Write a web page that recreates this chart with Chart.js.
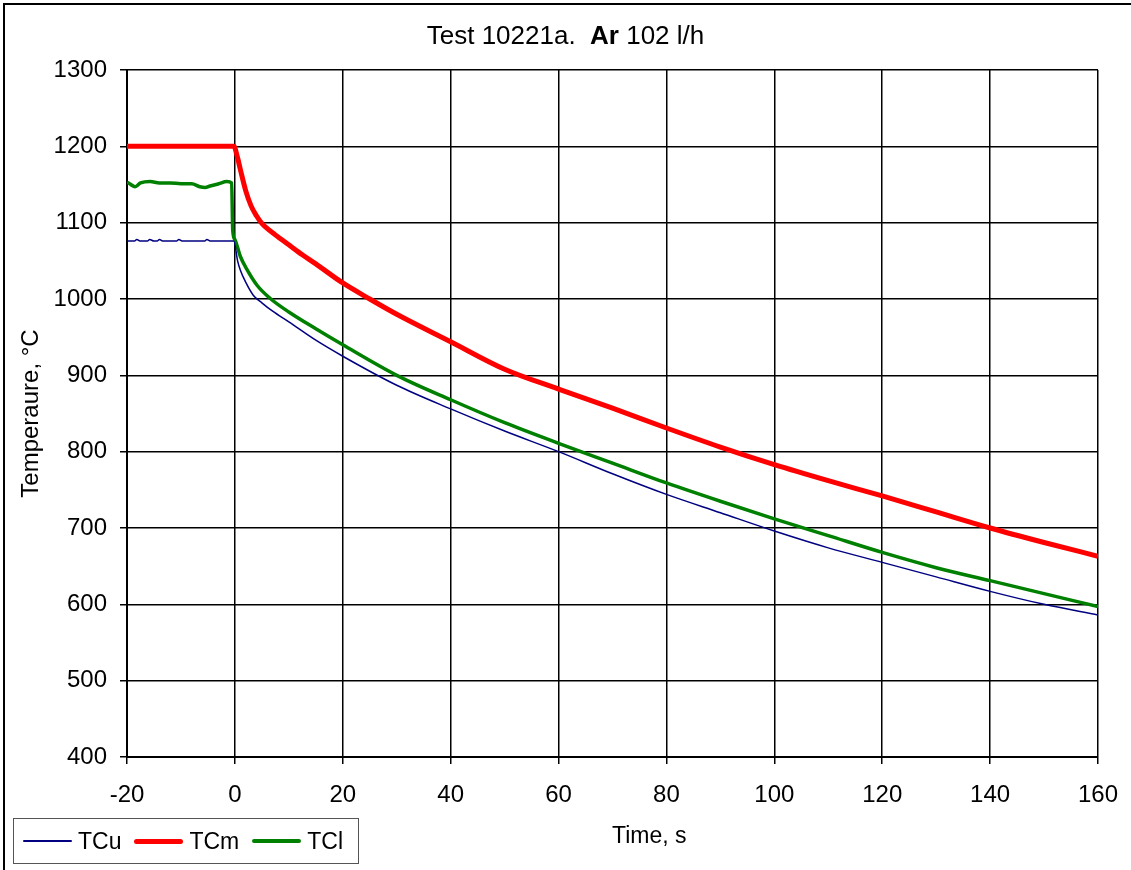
<!DOCTYPE html>
<html>
<head>
<meta charset="utf-8">
<script src="https://cdn.jsdelivr.net/npm/chart.js@4"></script>
<style>
  body { margin: 0; background: #fff; font-family: "Liberation Sans", Arial, sans-serif; }
  #wrap { position: relative; width: 1131px; height: 870px; overflow: hidden; }
  #frame { position: absolute; left: 3px; top: 3px; width: 1140px; height: 880px;
    border-left: 2px solid #000; border-top: 2px solid #000; }
  #title { position: absolute; left: 0; width: 1131px; top: 20px; text-align: center; font-size: 26px; color: #000; }
  #xtitle { position: absolute; left: 612px; top: 822px; font-size: 23px; color: #000; }
  #legend { position: absolute; left: 13px; top: 818px; width: 344px; height: 44px;
    border: 1px solid #555; display: flex; align-items: center; font-size: 23px; }
  #legend span.item { display: flex; align-items: center; margin-left: 9px; margin-right: 4px; }
  #legend i { display: inline-block; width: 49px; margin-right: 6px; border-radius: 3px; }
  canvas { position: absolute; left: 0; top: 0; }
</style>
</head>
<body>
<div id="wrap">
  <canvas id="chart" width="1131" height="870"></canvas>
  <div id="frame"></div>
  <div id="title">Test 10221a.&nbsp;&nbsp;<b>Ar</b> 102 l/h</div>
  <div id="xtitle">Time, s</div>
  <div id="legend"></div>
</div>
<script>
// TCu (upper thermocouple)
const tcuTime = [-20, -18.6, -18.2, -17.6, -16.2, -15.8, -15, -14.4, -14, -13.4, -10.8, -10.4, -9.8, -5.6, -5.2, -4.6, -0.2,
  0.5, 1, 2, 3.4, 5, 7, 10, 15, 20, 30, 40, 50, 60, 70, 80, 90, 100, 110, 120, 130, 140, 150, 160]
const tcuTemp = [1076, 1076, 1078, 1076, 1076, 1078, 1076, 1076, 1078, 1076, 1076, 1078, 1076, 1076, 1078, 1076, 1076,
  1050, 1038, 1022, 1005, 995, 984, 970, 946, 925, 887, 856, 827, 800, 771, 744, 720, 696, 674, 655, 636, 617, 600, 586]

// TCm (middle thermocouple)
const tcmTime = [-20, -0.2, 0.5, 1, 2, 3, 4, 5, 7.5, 10, 12.5, 15, 20, 25, 30, 40, 50, 60, 70, 80, 90, 100, 110, 120, 130, 140, 150, 160]
const tcmTemp = [1200, 1200, 1185, 1170, 1142, 1122, 1109, 1099, 1084, 1071, 1058, 1046, 1021, 1000, 980, 944, 908, 882, 857, 831, 806, 783, 762, 742, 721, 700, 681, 663]

// TCl (lower thermocouple)
const tclTime = [-20, -19.5, -18.5, -17.5, -15.7, -14, -12, -10, -8, -6.5, -5.5, -4.6, -3, -1.5, -0.6, -0.4,
  0, 1, 2.2, 4.1, 6.5, 10, 15, 20, 30, 40, 50, 60, 70, 80, 90, 100, 110, 120, 130, 140, 150, 160]
const tclTemp = [1153, 1151, 1147, 1152, 1154, 1152, 1152, 1151, 1151, 1147, 1146, 1148, 1151, 1154, 1152, 1090,
  1078, 1056, 1039, 1018, 1001, 983, 961, 940, 900, 868, 838, 811, 785, 759, 735, 712, 690, 668, 648, 631, 614, 597]

const xTicks = { min: -20, max: 160, step: 20 }
const yTicks = { min: 400, max: 1300, step: 100 }

const toPoints = (t, v) => t.map((x, i) => ({ x: x, y: v[i] }))
const tickFont = { family: 'Liberation Sans', size: 24 }

const chart = new Chart(document.getElementById('chart'), {
  type: 'line',
  data: {
    datasets: [
      { label: 'TCu', data: toPoints(tcuTime, tcuTemp), borderColor: '#000080', backgroundColor: '#000080', borderWidth: 1.5 },
      { label: 'TCm', data: toPoints(tcmTime, tcmTemp), borderColor: '#ff0000', backgroundColor: '#ff0000', borderWidth: 5 },
      { label: 'TCl', data: toPoints(tclTime, tclTemp), borderColor: '#008000', backgroundColor: '#008000', borderWidth: 3.5 }
    ]
  },
  options: {
    responsive: false,
    animation: false,
    devicePixelRatio: 1,
    cubicInterpolationMode: 'monotone',
    elements: { point: { radius: 0 } },
    layout: { padding: { top: 70, right: 33, bottom: 0, left: 0 } },
    plugins: { legend: { display: false }, title: { display: false }, tooltip: { enabled: false } },
    scales: {
      x: {
        type: 'linear',
        min: xTicks.min, max: xTicks.max,
        ticks: { stepSize: xTicks.step, color: '#000', font: tickFont, padding: 17, maxRotation: 0, callback: v => String(v) },
        grid: { color: '#000', lineWidth: 1.5, tickLength: 7 },
        border: { color: '#000', width: 2 },
        afterFit: s => { s.height = 113; s.paddingLeft = 0; s.paddingRight = 0 }
      },
      y: {
        min: yTicks.min, max: yTicks.max,
        ticks: { stepSize: yTicks.step, color: '#000', font: tickFont, padding: 13, callback: v => String(v) },
        grid: { color: '#000', lineWidth: 1.5, tickLength: 7 },
        border: { color: '#000', width: 2 },
        title: { display: true, text: 'Temperaure, °C', color: '#000', font: tickFont, padding: { top: 17, bottom: 0 } },
        afterFit: s => { s.width = 127 }
      }
    }
  }
})

// legend in a bordered box, built from the datasets
const legend = document.getElementById('legend')
chart.data.datasets.forEach(ds => {
  const item = document.createElement('span')
  item.className = 'item'
  const swatch = document.createElement('i')
  swatch.style.height = ds.borderWidth + 'px'
  swatch.style.background = ds.borderColor
  item.appendChild(swatch)
  item.appendChild(document.createTextNode(ds.label))
  legend.appendChild(item)
})
</script>
</body>
</html>
